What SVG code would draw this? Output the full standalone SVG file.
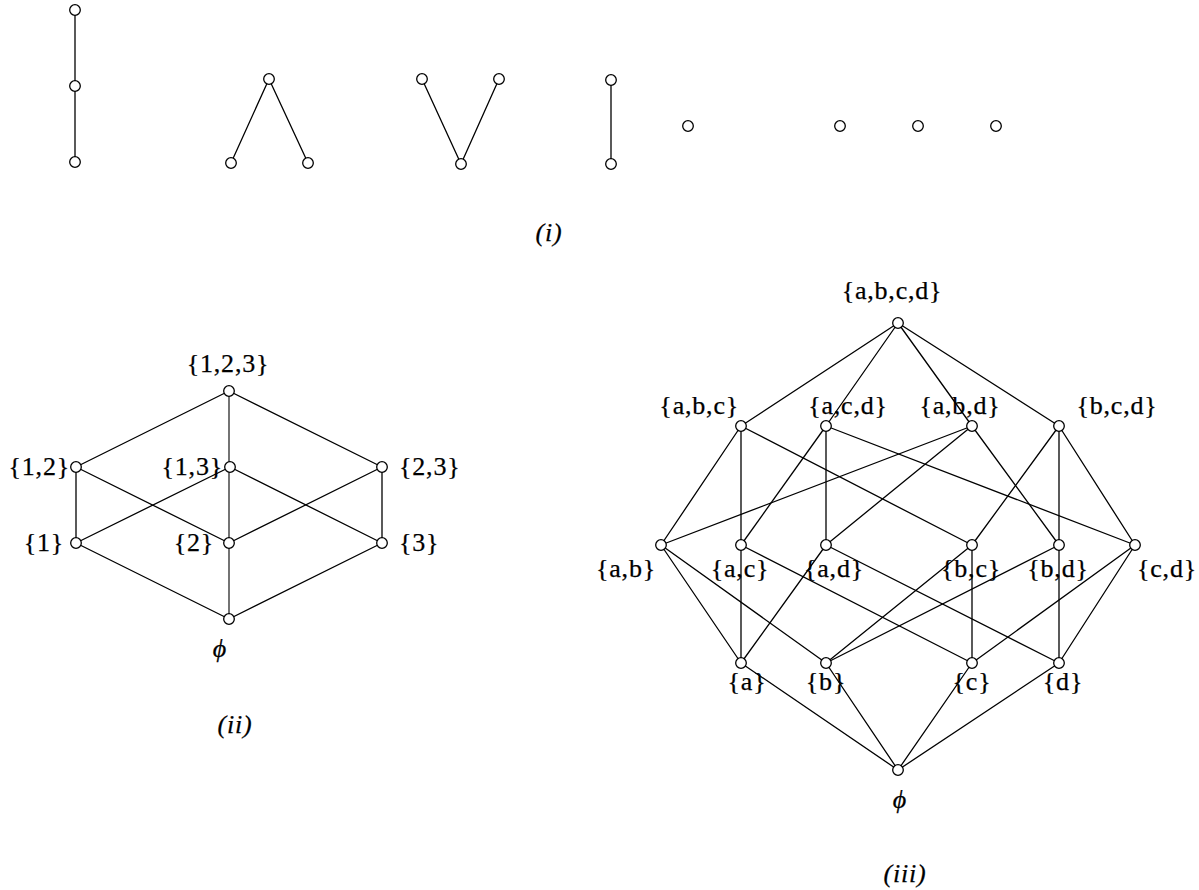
<svg xmlns="http://www.w3.org/2000/svg" width="1199" height="890" viewBox="0 0 1199 890">
<style>
.e{stroke:#000;stroke-width:1.3;fill:none;stroke-linecap:round}
.n{fill:#fff;stroke:#000;stroke-width:1.3}
.t{font-family:"Liberation Serif","DejaVu Serif",serif;font-size:26px;fill:#000;stroke:#000;stroke-width:0.25;letter-spacing:0.8px}
.i{font-style:italic}
.m{text-anchor:middle}
.r{text-anchor:end}
</style>
<rect width="1199" height="890" fill="#fff"/>
<g id="connectors">
<line class="e" x1="75" y1="10" x2="75" y2="162"/>
<line class="e" x1="269" y1="79" x2="231" y2="163"/>
<line class="e" x1="269" y1="79" x2="308" y2="163"/>
<line class="e" x1="422" y1="79" x2="461" y2="164"/>
<line class="e" x1="499" y1="79" x2="461" y2="164"/>
<line class="e" x1="611" y1="80" x2="611" y2="164"/>
<line class="e" x1="229" y1="391" x2="76" y2="467"/>
<line class="e" x1="229" y1="391" x2="382" y2="467"/>
<line class="e" x1="229" y1="391" x2="229" y2="619" style="stroke-width:1.1"/>
<line class="e" x1="76" y1="467" x2="76" y2="543"/>
<line class="e" x1="76" y1="467" x2="229" y2="543"/>
<line class="e" x1="230" y1="467" x2="76" y2="543"/>
<line class="e" x1="230" y1="467" x2="382" y2="543"/>
<line class="e" x1="382" y1="467" x2="229" y2="543"/>
<line class="e" x1="382" y1="467" x2="382" y2="543"/>
<line class="e" x1="76" y1="543" x2="229" y2="619"/>
<line class="e" x1="382" y1="543" x2="229" y2="619"/>
<line class="e" x1="898" y1="323" x2="741" y2="426"/>
<line class="e" x1="898" y1="323" x2="826" y2="426"/>
<line class="e" x1="898" y1="323" x2="972" y2="426"/>
<line class="e" x1="898" y1="323" x2="1059" y2="426"/>
<line class="e" x1="741" y1="426" x2="661" y2="545"/>
<line class="e" x1="741" y1="426" x2="741" y2="545"/>
<line class="e" x1="741" y1="426" x2="972" y2="545"/>
<line class="e" x1="826" y1="426" x2="741" y2="545"/>
<line class="e" x1="826" y1="426" x2="826" y2="545"/>
<line class="e" x1="826" y1="426" x2="1135" y2="545"/>
<line class="e" x1="972" y1="426" x2="661" y2="545"/>
<line class="e" x1="972" y1="426" x2="826" y2="545"/>
<line class="e" x1="972" y1="426" x2="1059" y2="545"/>
<line class="e" x1="1059" y1="426" x2="972" y2="545"/>
<line class="e" x1="1059" y1="426" x2="1059" y2="545"/>
<line class="e" x1="1059" y1="426" x2="1135" y2="545"/>
<line class="e" x1="661" y1="545" x2="741" y2="663"/>
<line class="e" x1="661" y1="545" x2="826" y2="663"/>
<line class="e" x1="741" y1="545" x2="741" y2="663"/>
<line class="e" x1="741" y1="545" x2="972" y2="663"/>
<line class="e" x1="826" y1="545" x2="741" y2="663"/>
<line class="e" x1="826" y1="545" x2="1059" y2="663"/>
<line class="e" x1="972" y1="545" x2="826" y2="663"/>
<line class="e" x1="972" y1="545" x2="972" y2="663"/>
<line class="e" x1="1059" y1="545" x2="826" y2="663"/>
<line class="e" x1="1059" y1="545" x2="1059" y2="663"/>
<line class="e" x1="1135" y1="545" x2="972" y2="663"/>
<line class="e" x1="1135" y1="545" x2="1059" y2="663"/>
<line class="e" x1="741" y1="663" x2="898" y2="770"/>
<line class="e" x1="826" y1="663" x2="898" y2="770"/>
<line class="e" x1="972" y1="663" x2="898" y2="770"/>
<line class="e" x1="1059" y1="663" x2="898" y2="770"/>
</g>
<g id="i-chain-top"><circle class="n" cx="75" cy="10" r="5.3"/></g>
<g id="i-chain-mid"><circle class="n" cx="75" cy="86" r="5.3"/></g>
<g id="i-chain-bot"><circle class="n" cx="75" cy="162" r="5.3"/></g>
<g id="i-wedge-top"><circle class="n" cx="269" cy="79" r="5.3"/></g>
<g id="i-wedge-l"><circle class="n" cx="231" cy="163" r="5.3"/></g>
<g id="i-wedge-r"><circle class="n" cx="308" cy="163" r="5.3"/></g>
<g id="i-vee-l"><circle class="n" cx="422" cy="79" r="5.3"/></g>
<g id="i-vee-r"><circle class="n" cx="499" cy="79" r="5.3"/></g>
<g id="i-vee-bot"><circle class="n" cx="461" cy="164" r="5.3"/></g>
<g id="i-pair-top"><circle class="n" cx="611" cy="80" r="5.3"/></g>
<g id="i-pair-bot"><circle class="n" cx="611" cy="164" r="5.3"/></g>
<g id="i-single"><circle class="n" cx="688" cy="126" r="5.3"/></g>
<g id="i-anti-1"><circle class="n" cx="840" cy="126" r="5.3"/></g>
<g id="i-anti-2"><circle class="n" cx="918" cy="126" r="5.3"/></g>
<g id="i-anti-3"><circle class="n" cx="996" cy="126" r="5.3"/></g>
<g id="label-i"><text class="t i m" x="549" y="241">(i)</text></g>
<g id="ii-123"><circle class="n" cx="229" cy="391" r="5.3"/><text class="t m" x="228" y="372">{1,2,3}</text></g>
<g id="ii-12"><circle class="n" cx="76" cy="467" r="5.3"/><text class="t r" x="70" y="475">{1,2}</text></g>
<g id="ii-13"><circle class="n" cx="230" cy="467" r="5.3"/><text class="t r" x="223" y="475">{1,3}</text></g>
<g id="ii-23"><circle class="n" cx="382" cy="467" r="5.3"/><text class="t" x="399" y="475">{2,3}</text></g>
<g id="ii-1"><circle class="n" cx="76" cy="543" r="5.3"/><text class="t r" x="64" y="551">{1}</text></g>
<g id="ii-2"><circle class="n" cx="229" cy="543" r="5.3"/><text class="t r" x="214" y="551">{2}</text></g>
<g id="ii-3"><circle class="n" cx="382" cy="543" r="5.3"/><text class="t" x="399" y="551">{3}</text></g>
<g id="ii-empty"><circle class="n" cx="229" cy="619" r="5.3"/><text class="t i m" x="220" y="657">ϕ</text></g>
<g id="label-ii"><text class="t i m" x="235" y="733">(ii)</text></g>
<g id="iii-abcd"><circle class="n" cx="898" cy="323" r="5.3"/><text class="t m" x="892" y="299">{a,b,c,d}</text></g>
<g id="iii-abc"><circle class="n" cx="741" cy="426" r="5.3"/><text class="t r" x="739" y="414">{a,b,c}</text></g>
<g id="iii-acd"><circle class="n" cx="826" cy="426" r="5.3"/><text class="t m" x="848" y="414">{a,c,d}</text></g>
<g id="iii-abd"><circle class="n" cx="972" cy="426" r="5.3"/><text class="t m" x="960" y="414">{a,b,d}</text></g>
<g id="iii-bcd"><circle class="n" cx="1059" cy="426" r="5.3"/><text class="t m" x="1117" y="414">{b,c,d}</text></g>
<g id="iii-ab"><circle class="n" cx="661" cy="545" r="5.3"/><text class="t r" x="656" y="577">{a,b}</text></g>
<g id="iii-ac"><circle class="n" cx="741" cy="545" r="5.3"/><text class="t m" x="740" y="577">{a,c}</text></g>
<g id="iii-ad"><circle class="n" cx="826" cy="545" r="5.3"/><text class="t m" x="834" y="577">{a,d}</text></g>
<g id="iii-bc"><circle class="n" cx="972" cy="545" r="5.3"/><text class="t m" x="971" y="577">{b,c}</text></g>
<g id="iii-bd"><circle class="n" cx="1059" cy="545" r="5.3"/><text class="t m" x="1058" y="577">{b,d}</text></g>
<g id="iii-cd"><circle class="n" cx="1135" cy="545" r="5.3"/><text class="t" x="1137" y="577">{c,d}</text></g>
<g id="iii-a"><circle class="n" cx="741" cy="663" r="5.3"/><text class="t m" x="747" y="690">{a}</text></g>
<g id="iii-b"><circle class="n" cx="826" cy="663" r="5.3"/><text class="t m" x="826" y="690">{b}</text></g>
<g id="iii-c"><circle class="n" cx="972" cy="663" r="5.3"/><text class="t m" x="972" y="690">{c}</text></g>
<g id="iii-d"><circle class="n" cx="1059" cy="663" r="5.3"/><text class="t m" x="1063" y="690">{d}</text></g>
<g id="iii-empty"><circle class="n" cx="898" cy="770" r="5.3"/><text class="t i m" x="900" y="808">ϕ</text></g>
<g id="label-iii"><text class="t i m" x="905" y="882">(iii)</text></g>
</svg>
